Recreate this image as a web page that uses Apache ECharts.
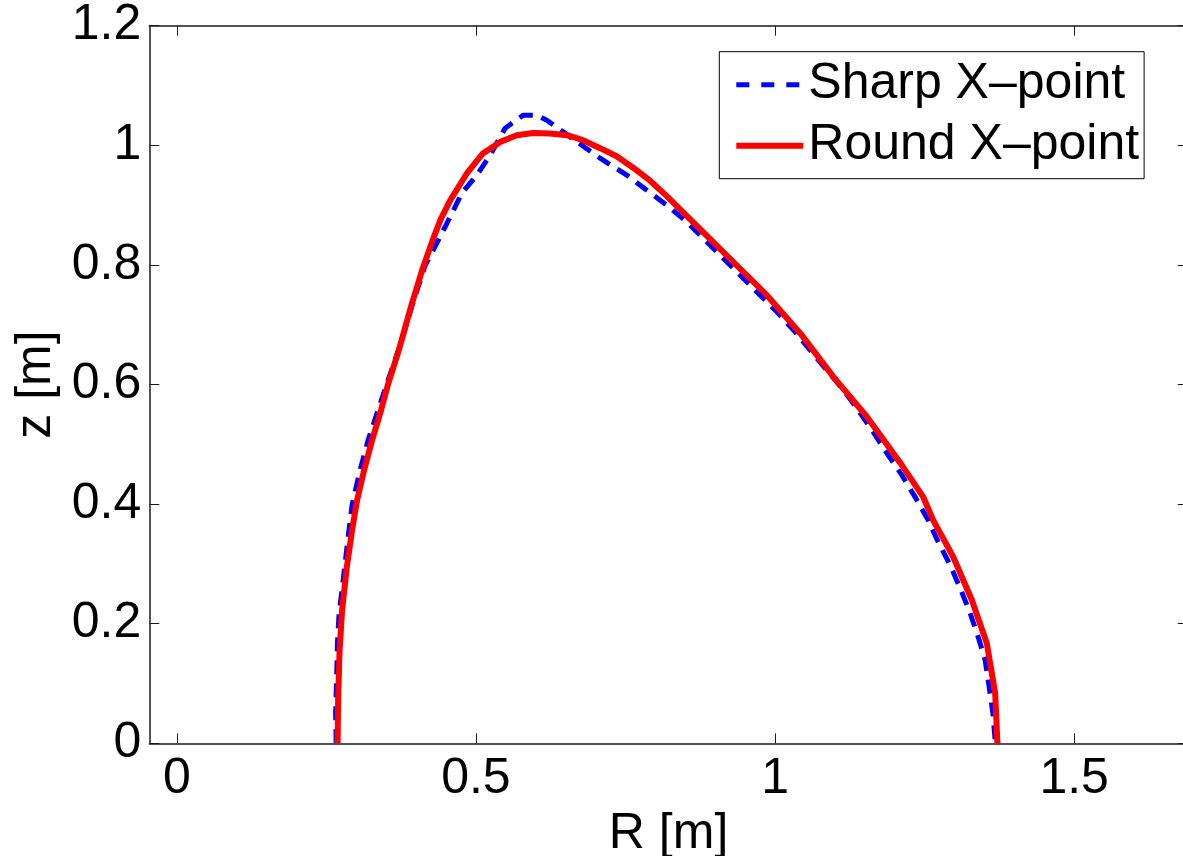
<!DOCTYPE html>
<html>
<head>
<meta charset="utf-8">
<script src="https://cdn.jsdelivr.net/npm/echarts@6/dist/echarts.min.js"></script>
<style>
html,body{margin:0;padding:0;background:#fff;}
#chart{width:1183px;height:856px;}
</style>
</head>
<body>
<div id="chart"></div>
<script>
// Sharp X-point boundary (R [m], z [m])
const sharpR = [0.2664,0.2655,0.2671,0.2685,0.2713,0.2775,0.2864,0.2930,0.3064,0.3198,0.3365,0.3532,0.3733,0.3933,0.4150,0.4401,0.4569,0.4764,0.5015,0.5237,0.5488,0.5789,0.6018,0.6185,0.6458,0.6770,0.7076,0.7523,0.7857,0.8191,0.8526,0.8798,0.9111,0.9417,0.9718,1.0030,1.0336,1.0587,1.0866,1.1117,1.1367,1.1640,1.1869,1.2120,1.2342,1.2559,1.2726,1.2927,1.3094,1.3261,1.3395,1.3512,1.3579,1.3641,1.3679,1.3688];
const sharpZ = [0,0.0507,0.1058,0.1677,0.2178,0.2680,0.3449,0.3984,0.4569,0.5070,0.5572,0.6073,0.6660,0.7320,0.7990,0.8469,0.8803,0.9199,0.9500,0.9834,1.0286,1.0503,1.0503,1.0420,1.0224,1.0002,0.9784,0.9500,0.9249,0.8999,0.8719,0.8447,0.8134,0.7828,0.7528,0.7215,0.6881,0.6575,0.6240,0.5940,0.5605,0.5209,0.4853,0.4485,0.4117,0.3733,0.3370,0.2981,0.2596,0.2178,0.1782,0.1393,0.0946,0.0507,0.0055,0];
// Round X-point boundary (R [m], z [m])
const roundR = [0.2688,0.2696,0.2721,0.2763,0.2842,0.2930,0.3014,0.3131,0.3265,0.3415,0.3532,0.3710,0.3920,0.4100,0.4275,0.4410,0.4570,0.4848,0.5120,0.5408,0.5684,0.5956,0.6240,0.6520,0.6790,0.7076,0.7345,0.7628,0.7911,0.8191,0.8464,0.8748,0.9300,0.9863,1.0424,1.0976,1.1535,1.2099,1.2476,1.2643,1.2978,1.3290,1.3540,1.3680,1.3718];
const roundZ = [0,0.0724,0.1560,0.2228,0.2947,0.3566,0.4067,0.4569,0.5070,0.5572,0.6007,0.6570,0.7320,0.7910,0.8410,0.8760,0.9080,0.9529,0.9868,1.0057,1.0169,1.0207,1.0197,1.0169,1.0085,0.9952,0.9820,0.9626,0.9408,0.9150,0.8880,0.8600,0.8051,0.7494,0.6854,0.6128,0.5460,0.4681,0.4122,0.3733,0.3119,0.2396,0.1672,0.0836,0];
const xTicks = [0, 0.5, 1, 1.5];
const yTicks = [0, 0.2, 0.4, 0.6, 0.8, 1, 1.2];
const seriesNames = ['Sharp X\u2013point', 'Round X\u2013point'];

const pairs = (a, b) => a.map((v, i) => [v, b[i]]);
const FONT = 'Liberation Sans, Arial, sans-serif';
const axisLineStyle = {color: '#1a1a1a', width: 1.5};
const tickStyle = {color: '#1a1a1a', width: 1};

const chart = echarts.init(document.getElementById('chart'), null, {renderer: 'canvas'});
chart.setOption({
  animation: false,
  backgroundColor: '#ffffff',
  grid: {left: 149.3, top: 25.7, width: 1038.5, height: 717.6, containLabel: false, outerBoundsMode: 'none'},
  legend: {
    orient: 'vertical',
    left: 719.3, top: 51.7,
    padding: [8, 5, 8, 14],
    itemWidth: 67, itemHeight: 20, itemGap: 11,
    backgroundColor: '#ffffff',
    borderColor: '#000000', borderWidth: 1,
    itemStyle: {color: 'rgba(0,0,0,0)', borderColor: 'rgba(0,0,0,0)', borderWidth: 0, opacity: 0},
    textStyle: {fontFamily: FONT, fontSize: 50, color: '#000'},
    data: [
      {name: seriesNames[0], lineStyle: {width: 5, color: '#0000ff', type: [13, 12]}},
      {name: seriesNames[1], lineStyle: {width: 6, color: '#ff0000', type: 'solid'}}
    ]
  },
  xAxis: [{
    type: 'value', position: 'bottom', min: -0.046, max: 1.69,
    splitLine: {show: false},
    axisLine: {show: true, onZero: false, lineStyle: axisLineStyle},
    axisTick: {show: true, inside: true, length: 10, lineStyle: tickStyle, customValues: xTicks},
    axisLabel: {show: true, margin: 11, fontFamily: FONT, fontSize: 50, color: '#000', customValues: xTicks, formatter: v => String(v)},
    name: 'R [m]', nameLocation: 'middle', nameGap: 58,
    nameTextStyle: {fontFamily: FONT, fontSize: 50, color: '#000'}
  }, {
    type: 'value', position: 'top', min: -0.046, max: 1.69,
    splitLine: {show: false},
    axisLine: {show: true, onZero: false, lineStyle: axisLineStyle},
    axisTick: {show: true, inside: true, length: 10, lineStyle: tickStyle, customValues: xTicks},
    axisLabel: {show: false}
  }],
  yAxis: [{
    type: 'value', position: 'left', min: 0, max: 1.2, interval: 0.2,
    splitLine: {show: false},
    axisLine: {show: true, onZero: false, lineStyle: axisLineStyle},
    axisTick: {show: true, inside: true, length: 10, lineStyle: tickStyle, customValues: yTicks},
    axisLabel: {show: true, margin: 8, fontFamily: FONT, fontSize: 50, color: '#000', customValues: yTicks, formatter: v => String(v)},
    name: 'z [m]', nameLocation: 'middle', nameGap: 87, nameRotate: 90,
    nameTextStyle: {fontFamily: FONT, fontSize: 50, color: '#000'}
  }, {
    type: 'value', position: 'right', min: 0, max: 1.2, interval: 0.2,
    splitLine: {show: false},
    axisLine: {show: true, onZero: false, lineStyle: axisLineStyle},
    axisTick: {show: true, inside: true, length: 10, lineStyle: tickStyle, customValues: yTicks},
    axisLabel: {show: false}
  }],
  series: [{
    name: seriesNames[0], type: 'line', xAxisIndex: 0, yAxisIndex: 0,
    data: pairs(sharpR, sharpZ), symbol: 'none', smooth: false,
    color: '#0000ff',
    lineStyle: {color: '#0000ff', width: 5, type: [14, 9], cap: 'butt'}
  }, {
    name: seriesNames[1], type: 'line', xAxisIndex: 0, yAxisIndex: 0,
    data: pairs(roundR, roundZ), symbol: 'none', smooth: false,
    color: '#ff0000',
    lineStyle: {color: '#ff0000', width: 6, type: 'solid'}
  }]
});
</script>
</body>
</html>
